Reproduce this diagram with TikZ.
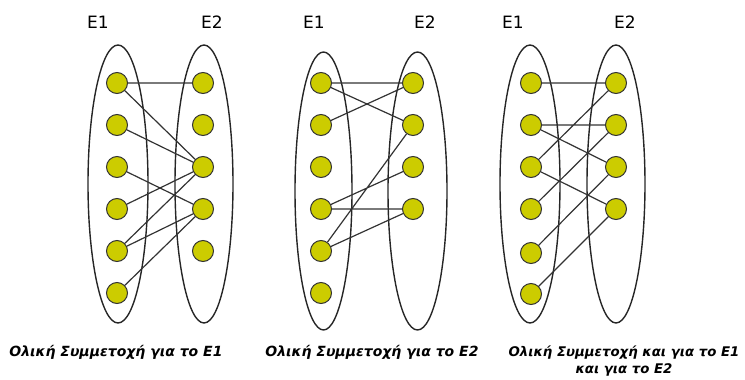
\documentclass[tikz,border=0pt]{standalone}
\usepackage{fontspec}
\setmainfont{DejaVu Sans}
\definecolor{olive}{HTML}{CCCC00}
\tikzset{
  pt/.style={circle, draw=black!80, fill=olive, minimum size=21pt, inner sep=0pt, line width=1pt},
  set/.style={draw=black!85, line width=1.4pt},
  link/.style={draw=black!80, line width=1.2pt},
  lbl/.style={font=\fontsize{17}{20}\selectfont},
  captxt/.style={font=\fontsize{14}{17}\selectfont\bfseries\itshape, align=center}
}
\begin{document}
\begin{tikzpicture}[x=1pt,y=-1pt]
  \useasboundingbox (0,0) rectangle (745,380);

  % first
  \draw [set] (118,184) ellipse [x radius=30pt, y radius=139pt];
  \draw [set] (204,184) ellipse [x radius=29pt, y radius=139pt];
  \node [lbl] (e1a) at (98,22) {E1};
  \node [lbl] (e2a) at (212,22) {E2};
  \foreach \y [count=\i] in {83,125,167,209,251,293}
    \node [pt] (a\i) at (117,\y) {};
  \foreach \y [count=\i] in {83,125,167,209,251}
    \node [pt] (b\i) at (203,\y) {};
  \draw [link] (a1) -- (b1) (a1) -- (b3) (a2) -- (b3) (a3) -- (b4)
    (a4) -- (b3) (a5) -- (b3) (a5) -- (b4) (a6) -- (b4);
  \node [captxt] (cap1) at (116,352) {Ολική Συμμετοχή για το Ε1};

  % second
  \draw [set] (323.5,191) ellipse [x radius=28.5pt, y radius=139pt];
  \draw [set] (417.5,191) ellipse [x radius=29.5pt, y radius=139pt];
  \node [lbl] (e1b) at (314,22) {E1};
  \node [lbl] (e2b) at (425,22) {E2};
  \foreach \y [count=\i] in {83,125,167,209,251,293}
    \node [pt] (c\i) at (321,\y) {};
  \foreach \y [count=\i] in {83,125,167,209}
    \node [pt] (d\i) at (413,\y) {};
  \draw [link] (c1) -- (d1) (c1) -- (d2) (c2) -- (d1) (c4) -- (d3)
    (c4) -- (d4) (c5) -- (d2) (c5) -- (d4);
  \node [captxt] (cap2) at (372,352) {Ολική Συμμετοχή για το Ε2};

  % third
  \draw [set] (530,184) ellipse [x radius=30pt, y radius=139pt];
  \draw [set] (616,184) ellipse [x radius=29pt, y radius=139pt];
  \node [lbl] (e1c) at (513,22) {E1};
  \node [lbl] (e2c) at (625,22) {E2};
  \foreach \y [count=\i] in {83,125,167,209,253,294}
    \node [pt] (f\i) at (531,\y) {};
  \foreach \y [count=\i] in {83,125,167,209}
    \node [pt] (g\i) at (616,\y) {};
  \draw [link] (f1) -- (g1) (f2) -- (g2) (f2) -- (g3) (f3) -- (g1)
    (f3) -- (g4) (f4) -- (g2) (f5) -- (g3) (f6) -- (g4);
  \node [captxt, font=\fontsize{13.3}{17}\selectfont\bfseries\itshape] (cap3) at (624,361)
    {Ολική Συμμετοχή και για το Ε1\\και για το Ε2};
\end{tikzpicture}
\end{document}
